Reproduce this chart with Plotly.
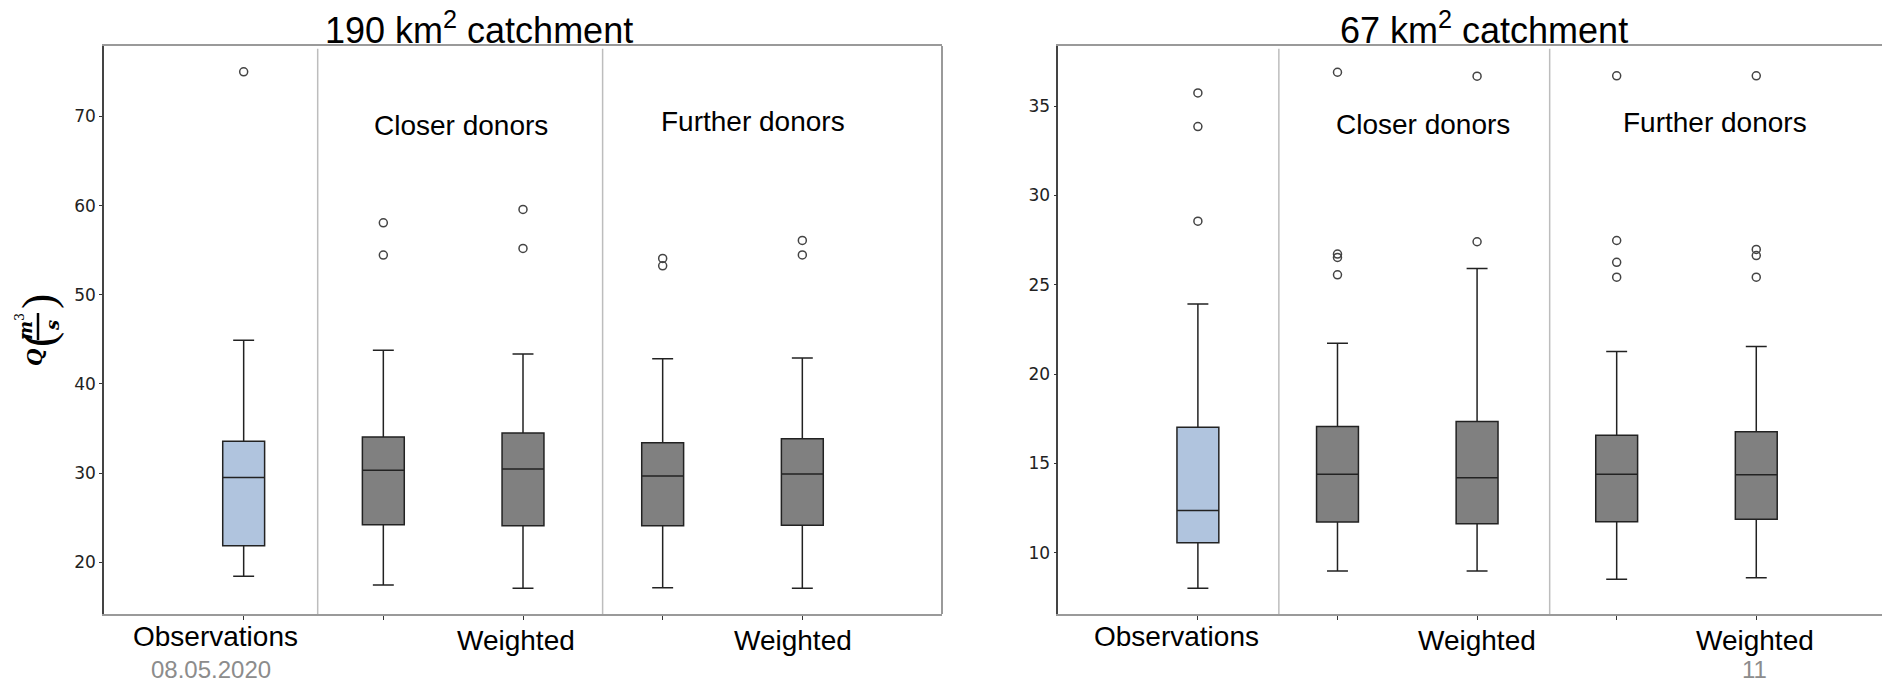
import plotly.graph_objects as go

# The page body has an 8 px margin, so the figure is offset by 8 px
OFF = 8
W, H = 1890 - OFF, 681 - OFF

# ---------------- data ----------------
cats = [0, 1, 2, 3, 4]
tick_labels = ["Observations", "", "Weighted", "", "Weighted"]
group_labels = ["Closer donors", "Further donors"]
titles = ["190 km<sup>2</sup> catchment", "67 km<sup>2</sup> catchment"]

# 190 km2 catchment
L_lo = [18.43, 17.46, 17.09, 17.15, 17.09]
L_q1 = [21.86, 24.22, 24.10, 24.10, 24.16]
L_med = [29.50, 30.31, 30.46, 29.67, 29.90]
L_q3 = [33.56, 34.05, 34.50, 33.41, 33.86]
L_hi = [44.90, 43.77, 43.35, 42.83, 42.90]
L_out = [[75.0], [58.07, 54.45], [59.57, 55.2], [54.08, 53.25], [56.09, 54.47]]

# 67 km2 catchment
R_lo = [8.01, 8.98, 8.98, 8.52, 8.60]
R_q1 = [10.56, 11.72, 11.62, 11.73, 11.88]
R_med = [12.37, 14.40, 14.20, 14.39, 14.36]
R_q3 = [17.03, 17.07, 17.35, 16.58, 16.77]
R_hi = [23.92, 21.73, 25.92, 21.27, 21.54]
R_out = [[35.74, 33.86, 28.56], [36.9, 26.72, 26.53, 25.56], [36.68, 27.41],
         [36.7, 27.48, 26.26, 25.43], [36.7, 26.98, 26.64, 25.43]]

OBS_COLOR = "#b0c4de"
SIM_COLOR = "#808080"
LINE_COLOR = "#222222"


def px_x(x):
    return (x - OFF) / W


def px_y(y):
    return 1 - (y - OFF) / H


fig = go.Figure()


def add_chart(xa, ya, lo, q1, med, q3, hi, out):
    for idxs, color in (([0], OBS_COLOR), ([1, 2, 3, 4], SIM_COLOR)):
        fig.add_trace(go.Box(
            x=[cats[i] for i in idxs],
            q1=[q1[i] for i in idxs], median=[med[i] for i in idxs],
            q3=[q3[i] for i in idxs], lowerfence=[lo[i] for i in idxs],
            upperfence=[hi[i] for i in idxs],
            width=0.3, whiskerwidth=0.5, fillcolor=color,
            line=dict(color=LINE_COLOR, width=1.5),
            boxpoints=False, showlegend=False, hoverinfo="skip",
            xaxis=xa, yaxis=ya))
    ox, oy = [], []
    for c, vals in zip(cats, out):
        for v in vals:
            ox.append(c)
            oy.append(v)
    fig.add_trace(go.Scatter(
        x=ox, y=oy, mode="markers",
        marker=dict(symbol="circle-open", size=8, color="#444444",
                    line=dict(width=1.5, color="#444444")),
        showlegend=False, hoverinfo="skip", xaxis=xa, yaxis=ya))


add_chart("x", "y", L_lo, L_q1, L_med, L_q3, L_hi, L_out)
add_chart("x2", "y2", R_lo, R_q1, R_med, R_q3, R_hi, R_out)

ydom = [px_y(614), px_y(46)]
tickfont = dict(family="DejaVu Sans", size=17, color="#222222")

xcommon = dict(tickmode="array", tickvals=cats, showticklabels=False,
               ticks="outside", ticklen=4, tickcolor="#333333", tickwidth=1,
               showline=True, linecolor="#9a9a9a", linewidth=2, mirror=True,
               showgrid=False, zeroline=False, fixedrange=True)
ycommon = dict(ticks="outside", ticklen=3, tickcolor="#333333", tickwidth=1,
               showline=True, linecolor="#444444", linewidth=1.5,
               showgrid=False, zeroline=False, tickfont=tickfont, domain=ydom)

fig.update_layout(
    width=W, height=H,
    margin=dict(l=0, r=0, t=0, b=0),
    paper_bgcolor="white", plot_bgcolor="white",
    xaxis=dict(domain=[px_x(104), px_x(942)], range=[-1, 5], anchor="y", **xcommon),
    yaxis=dict(range=[14.2, 77.9], tickvals=[20, 30, 40, 50, 60, 70], anchor="x", **ycommon),
    xaxis2=dict(domain=[px_x(1058.3), 1.0], range=[-1, 4.958], anchor="y2", **xcommon),
    yaxis2=dict(range=[6.57, 38.37], tickvals=[10, 15, 20, 25, 30, 35], anchor="x2", **ycommon),
)

shapes = []
# right edge of left frame
shapes.append(dict(type="line", xref="x domain", yref="y domain", x0=1, x1=1, y0=0, y1=1,
                   line=dict(color="#9a9a9a", width=2)))
# group separators
for xr, yr, seps in (("x", "y domain", [0.53, 2.57]), ("x2", "y2 domain", [0.58, 2.52])):
    for s in seps:
        shapes.append(dict(type="line", xref=xr, yref=yr, x0=s, x1=s, y0=0, y1=0.995,
                           line=dict(color="#bdbdbd", width=1.5)))
# fraction bar of the y-axis title
shapes.append(dict(type="line", xref="paper", yref="paper", x0=px_x(38), x1=px_x(38),
                   y0=px_y(340), y1=px_y(313), line=dict(color="#000000", width=2.5)))
fig.update_layout(shapes=shapes)

ann = []
txt_font = dict(family="Liberation Sans, Arial", size=28, color="#000000")
# titles
for t, cx in zip(titles, [478.5, 1484]):
    ann.append(dict(text=t, xref="paper", yref="paper", x=px_x(cx), y=px_y(28),
                    xanchor="center", yanchor="middle", showarrow=False,
                    font=dict(family="Liberation Sans, Arial", size=36, color="#000000")))
# group labels
for xr, yr, pos in (("x", "y", [(1.556, 69.0), (3.65, 69.4)]),
                    ("x2", "y2", [(1.61, 33.99), (3.706, 34.1)])):
    for lab, (gx, gy) in zip(group_labels, pos):
        ann.append(dict(text=lab, xref=xr, yref=yr, x=gx, y=gy, xanchor="center",
                        yanchor="middle", showarrow=False, font=txt_font))
# category labels under the axes
cat_pos = [(215.7, 636), (516, 640), (792.6, 640), (1176.7, 636), (1477, 640), (1754.7, 640)]
cat_txt = [tick_labels[0], tick_labels[2], tick_labels[4]] * 2
for lab, (cx, cy) in zip(cat_txt, cat_pos):
    ann.append(dict(text=lab, xref="paper", yref="paper", x=px_x(cx), y=px_y(cy),
                    xanchor="center", yanchor="middle", showarrow=False, font=txt_font))

# y-axis title Q(m^3/s), written rotated with a stacked fraction
ytitle_parts = [
    ("<b><i>Q</i></b>", 35, 357, 20),
    ("(", 38, 340, 46),
    ("<b><i>m</i></b><sup>3</sup>", 24, 326, 18),
    ("<b><i>s</i></b>", 52, 326, 18),
    (")", 38, 302, 46),
]
for txt, ax_, ay_, sz in ytitle_parts:
    fam = "Liberation Serif" if txt in ("(", ")") else "DejaVu Serif"
    ann.append(dict(text=txt, xref="paper", yref="paper", x=px_x(ax_), y=px_y(ay_),
                    textangle=-90, xanchor="center", yanchor="middle", showarrow=False,
                    font=dict(family=fam, size=sz, color="#000000")))
# slide footer
ann.append(dict(text="08.05.2020", xref="paper", yref="paper", x=px_x(211), y=px_y(669),
                xanchor="center", yanchor="middle", showarrow=False,
                font=dict(family="Liberation Sans, Arial", size=24, color="#8c8c8c")))
ann.append(dict(text="11", xref="paper", yref="paper", x=px_x(1754), y=px_y(669),
                xanchor="center", yanchor="middle", showarrow=False,
                font=dict(family="Liberation Sans, Arial", size=24, color="#8c8c8c")))
fig.update_layout(annotations=ann)

fig.write_html("out.html")
